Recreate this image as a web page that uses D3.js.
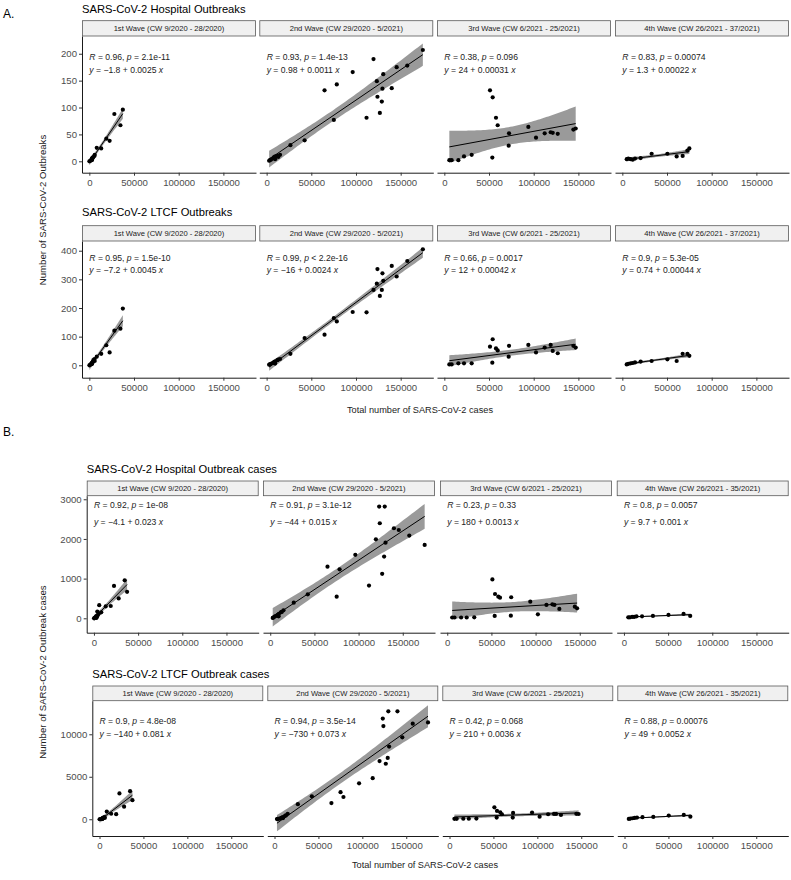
<!DOCTYPE html>
<html><head><meta charset="utf-8">
<script src="https://cdn.jsdelivr.net/npm/d3@7"></script>
<style>body{margin:0;background:#fff}</style>
</head><body>
<svg id="c" width="791" height="880"></svg>
<script>
// ---------------- DATA ----------------
const waveLabelsA = ["1st Wave (CW 9/2020 - 28/2020)", "2nd Wave (CW 29/2020 - 5/2021)", "3rd Wave (CW 6/2021 - 25/2021)", "4th Wave (CW 26/2021 - 37/2021)"];
const waveLabelsB = ["1st Wave (CW 9/2020 - 28/2020)", "2nd Wave (CW 29/2020 - 5/2021)", "3rd Wave (CW 6/2021 - 25/2021)", "4th Wave (CW 26/2021 - 35/2021)"];

// total weekly SARS-CoV-2 cases (x)
const casesW1 = [100, 1000, 6000, 22700, 34800, 37500, 28000, 19000, 13300, 8300, 5700, 4500, 3500, 2800, 2300, 2500, 3800, 3200, 2600, 2700];
const casesW2 = [2800, 3600, 4800, 6500, 8500, 9500, 8600, 8000, 9700, 12000, 13000, 15000, 26600, 42500, 64800, 96300, 119600, 123300, 124000, 126700, 128900, 145500, 174800, 157400, 130500, 140000, 111800, 78500, 75200, 129600];
const casesW3 = [5600, 8200, 15700, 22000, 30600, 51100, 54100, 53700, 57800, 59700, 72400, 72000, 94000, 102600, 112300, 119000, 121300, 126900, 144400, 147000];
const casesW4A = [4900, 6700, 9300, 11600, 14200, 20500, 32800, 50400, 60800, 67500, 72800, 75000];
const casesW4B = [4900, 6700, 9300, 11600, 14200, 20500, 32800, 50400, 67500, 75000];

// A: hospital outbreaks
const hospOutbreaksW1 = [0, 1, 12, 38, 67, 96, 88, 42, 24, 25, 10, 8, 5, 4, 3, 2, 7, 6, 3, 2];
const hospOutbreaksW2 = [1, 2, 3, 5, 8, 4, 6, 7, 9, 10, 8, 12, 30, 39, 132, 166, 190, 149, 120, 90, 111, 175, 207, 178, 162, 136, 81, 143, 77, 135];
const hospOutbreaksW3 = [2, 2, 2, 9, 12, 132, 119, 7, 81, 67, 52, 29, 64, 44, 52, 54, 53, 51, 59, 61];
const hospOutbreaksW4 = [4, 5, 4, 3, 5, 6, 14, 14, 9, 10, 20, 24];
// A: LTCF outbreaks
const ltcfOutbreaksW1 = [0, 2, 15, 45, 128, 198, 121, 70, 40, 30, 22, 18, 10, 8, 5, 6, 12, 8, 5, 4];
const ltcfOutbreaksW2 = [2, 3, 5, 8, 10, 6, 12, 9, 14, 18, 20, 22, 40, 95, 107, 186, 263, 285, 336, 242, 263, 310, 405, 364, 295, 347, 185, 153, 165, 321];
const ltcfOutbreaksW3 = [3, 3, 7, 7, 7, 65, 91, 9, 59, 52, 68, 30, 71, 45, 62, 71, 50, 42, 68, 62];
const ltcfOutbreaksW4 = [3, 5, 7, 8, 10, 13, 15, 21, 15, 40, 40, 33];
// B: hospital outbreak cases
const hospCasesW1 = [0, 20, 330, 817, 958, 667, 500, 310, 300, 150, 120, 80, 60, 40, 30, 50, 170, 30, 20, 10];
const hospCasesW2 = [10, 20, 40, 60, 80, 50, 90, 70, 110, 150, 160, 200, 395, 605, 1300, 1600, 1990, 2815, 2395, 1120, 1555, 2225, 1850, 2085, 1905, 2270, 825, 1235, 546, 2815];
const hospCasesW3 = [20, 20, 20, 20, 25, 980, 613, 60, 546, 520, 530, 67, 420, 100, 336, 353, 336, 235, 294, 252];
const hospCasesW4 = [25, 25, 35, 35, 50, 50, 60, 85, 110, 60];
// B: LTCF outbreak cases
const ltcfCasesW1 = [0, 30, 150, 3040, 3300, 2250, 1480, 600, 650, 900, 250, 200, 120, 80, 50, 60, 100, 40, 30, 20];
const ltcfCasesW2 = [20, 40, 60, 100, 150, 120, 200, 180, 250, 400, 450, 650, 1770, 2700, 1900, 4230, 6850, 11850, 10970, 6530, 7220, 9640, 11400, 11250, 8550, 12700, 4840, 2620, 3190, 12700];
const ltcfCasesW3 = [50, 50, 60, 60, 80, 1410, 980, 200, 820, 590, 745, 200, 785, 310, 590, 630, 630, 510, 640, 620];
const ltcfCasesW4 = [40, 80, 120, 160, 200, 240, 275, 430, 510, 310];

// statistics labels
const hospOutbreaksR = ["0.96", "0.93", "0.38", "0.83"];
const hospOutbreaksP = ["= 2.1e-11", "= 1.4e-13", "= 0.096", "= 0.00074"];
const hospOutbreaksEq = ["−1.8 + 0.0025", "0.98 + 0.0011", "24 + 0.00031", "1.3 + 0.00022"];
const ltcfOutbreaksR = ["0.95", "0.99", "0.66", "0.9"];
const ltcfOutbreaksP = ["= 1.5e-10", "< 2.2e-16", "= 0.0017", "= 5.3e-05"];
const ltcfOutbreaksEq = ["−7.2 + 0.0045", "−16 + 0.0024", "12 + 0.00042", "0.74 + 0.00044"];
const hospCasesR = ["0.92", "0.91", "0.23", "0.8"];
const hospCasesP = ["= 1e-08", "= 3.1e-12", "= 0.33", "= 0.0057"];
const hospCasesEq = ["−4.1 + 0.023", "−44 + 0.015", "180 + 0.0013", "9.7 + 0.001"];
const ltcfCasesR = ["0.9", "0.94", "0.42", "0.88"];
const ltcfCasesP = ["= 4.8e-08", "= 3.5e-14", "= 0.068", "= 0.00076"];
const ltcfCasesEq = ["−140 + 0.081", "−730 + 0.073", "210 + 0.0036", "49 + 0.0052"];

// tick labels
const xTicks = [0, 50000, 100000, 150000];
const yTicksA1 = [0, 50, 100, 150, 200];
const yTicksA2 = [0, 100, 200, 300, 400];
const yTicksB1 = [0, 1000, 2000, 3000];
const yTicksB2 = [0, 5000, 10000];

// ---------------- DRAWING ----------------
const FONT = "'Liberation Sans', Arial, Helvetica, sans-serif";
const svg = d3.select("#c");
const xDomain = [-8200, 186500];
const tQuant = {8: 2.306, 10: 2.228, 18: 2.101, 28: 2.048};

const rows = [
  {title: "SARS-CoV-2 Hospital Outbreaks", titleY: 10, stripTop: 20.7, plotTop: 36, plotBottom: 172.7,
   panelX: [82, 259.3, 437, 615], panelW: 174, yDomain: [-21.2, 233], yTicks: yTicksA1, waves: waveLabelsA,
   cases: [casesW1, casesW2, casesW3, casesW4A], values: [hospOutbreaksW1, hospOutbreaksW2, hospOutbreaksW3, hospOutbreaksW4],
   R: hospOutbreaksR, P: hospOutbreaksP, Eq: hospOutbreaksEq, annY: [57.7, 70.7]},
  {title: "SARS-CoV-2 LTCF Outbreaks", titleY: 213, stripTop: 225.7, plotTop: 241, plotBottom: 377.7,
   panelX: [82, 259.3, 437, 615], panelW: 174, yDomain: [-43.3, 433.9], yTicks: yTicksA2, waves: waveLabelsA,
   cases: [casesW1, casesW2, casesW3, casesW4A], values: [ltcfOutbreaksW1, ltcfOutbreaksW2, ltcfOutbreaksW3, ltcfOutbreaksW4],
   R: ltcfOutbreaksR, P: ltcfOutbreaksP, Eq: ltcfOutbreaksEq, annY: [259.3, 270.7]},
  {title: "SARS-CoV-2 Hospital Outbreak cases", titleY: 470, stripTop: 481, plotTop: 495.7, plotBottom: 632.7,
   panelX: [86.7, 263, 440, 616.7], panelW: 172, yDomain: [-363, 3090], yTicks: yTicksB1, waves: waveLabelsB,
   cases: [casesW1, casesW2, casesW3, casesW4B], values: [hospCasesW1, hospCasesW2, hospCasesW3, hospCasesW4],
   R: hospCasesR, P: hospCasesP, Eq: hospCasesEq, annY: [505.5, 523]},
  {title: "SARS-CoV-2 LTCF Outbreak cases", titleY: 675, stripTop: 686, plotTop: 700.7, plotBottom: 836,
   panelX: [92.3, 267.3, 442.3, 617.3], panelW: 171, yDomain: [-1970, 13953], yTicks: yTicksB2, waves: waveLabelsB,
   cases: [casesW1, casesW2, casesW3, casesW4B], values: [ltcfCasesW1, ltcfCasesW2, ltcfCasesW3, ltcfCasesW4],
   R: ltcfCasesR, P: ltcfCasesP, Eq: ltcfCasesEq, annY: [721.7, 735]}
];

function fit(xs, ys) {
  const n = xs.length;
  const mx = d3.mean(xs), my = d3.mean(ys);
  let sxx = 0, sxy = 0;
  for (let i = 0; i < n; i++) { sxx += (xs[i] - mx) ** 2; sxy += (xs[i] - mx) * (ys[i] - my); }
  const b = sxy / sxx, a = my - b * mx;
  let sse = 0;
  for (let i = 0; i < n; i++) sse += (ys[i] - a - b * xs[i]) ** 2;
  const s = Math.sqrt(sse / (n - 2));
  const t = tQuant[n - 2] || 2.0;
  return {a, b, band: x => t * s * Math.sqrt(1 / n + (x - mx) ** 2 / sxx)};
}

// section labels
svg.append("text").attr("x", 3).attr("y", 15).attr("dominant-baseline", "middle")
  .attr("font-family", FONT).attr("font-size", 12).text("A.");
svg.append("text").attr("x", 3).attr("y", 433).attr("dominant-baseline", "middle")
  .attr("font-family", FONT).attr("font-size", 12).text("B.");

rows.forEach((row, ri) => {
  svg.append("text").attr("x", row.panelX[0]).attr("y", row.titleY).attr("dominant-baseline", "middle")
    .attr("font-family", FONT).attr("font-size", 11.2).attr("fill", "#000").text(row.title);
  const y = d3.scaleLinear().domain(row.yDomain).range([row.plotBottom, row.plotTop]);

  row.panelX.forEach((px, i) => {
    const x = d3.scaleLinear().domain(xDomain).range([px, px + row.panelW]);
    const g = svg.append("g");
    const clipId = `clip-${ri}-${i}`;
    svg.append("clipPath").attr("id", clipId).append("rect")
      .attr("x", px).attr("y", row.plotTop).attr("width", row.panelW).attr("height", row.plotBottom - row.plotTop);

    // strip
    g.append("rect").attr("x", px + 0.5).attr("y", row.stripTop).attr("width", row.panelW - 1)
      .attr("height", row.plotTop - row.stripTop).attr("fill", "#f0f0f0").attr("stroke", "#595959").attr("stroke-width", 0.8);
    g.append("text").attr("x", px + row.panelW / 2).attr("y", (row.stripTop + row.plotTop) / 2 + 0.3)
      .attr("text-anchor", "middle").attr("dominant-baseline", "middle")
      .attr("font-family", FONT).attr("font-size", 7.6).attr("fill", "#1a1a1a").text(row.waves[i]);

    const xs = row.cases[i], ys = row.values[i];
    const f = fit(xs, ys);
    const [xmin, xmax] = d3.extent(xs);
    const grid = d3.range(0, 61).map(k => xmin + (xmax - xmin) * k / 60);
    const pg = g.append("g").attr("clip-path", `url(#${clipId})`);
    pg.append("path").datum(grid)
      .attr("d", d3.area().x(d => x(d)).y0(d => y(f.a + f.b * d - f.band(d))).y1(d => y(f.a + f.b * d + f.band(d))))
      .attr("fill", "#959595").attr("opacity", 0.95);
    pg.append("line").attr("x1", x(xmin)).attr("x2", x(xmax))
      .attr("y1", y(f.a + f.b * xmin)).attr("y2", y(f.a + f.b * xmax))
      .attr("stroke", "#000").attr("stroke-width", 1);
    pg.selectAll("circle").data(xs.map((v, k) => [v, ys[k]])).enter().append("circle")
      .attr("cx", d => x(d[0])).attr("cy", d => y(d[1])).attr("r", 2.1).attr("fill", "#000");

    // x axis
    const xa = g.append("g").attr("transform", `translate(0,${row.plotBottom})`)
      .call(d3.axisBottom(x).tickValues(xTicks).tickFormat(d3.format("d")).tickSize(3).tickSizeOuter(0).tickPadding(3));
    xa.select(".domain").attr("stroke", "#000").attr("stroke-width", 0.9);
    xa.selectAll(".tick line").attr("stroke", "#333");
    xa.selectAll("text").attr("font-family", FONT).attr("font-size", 9.6).attr("fill", "#4d4d4d");

    if (i === 0) {
      const ya = g.append("g").attr("transform", `translate(${px},0)`)
        .call(d3.axisLeft(y).tickValues(row.yTicks).tickFormat(d3.format("d")).tickSize(3).tickSizeOuter(0).tickPadding(2));
      ya.select(".domain").attr("stroke", "#000").attr("stroke-width", 0.9);
      ya.selectAll(".tick line").attr("stroke", "#333");
      ya.selectAll("text").attr("font-family", FONT).attr("font-size", 9.6).attr("fill", "#4d4d4d");
    }

    // annotations
    const ax = x(0);
    const t1 = g.append("text").attr("x", ax).attr("y", row.annY[0]).attr("dominant-baseline", "middle")
      .attr("font-family", FONT).attr("font-size", 8.6).attr("fill", "#222");
    t1.append("tspan").attr("font-style", "italic").text("R");
    t1.append("tspan").text(` = ${row.R[i]}, `);
    t1.append("tspan").attr("font-style", "italic").text("p");
    t1.append("tspan").text(` ${row.P[i]}`);
    const t2 = g.append("text").attr("x", ax).attr("y", row.annY[1]).attr("dominant-baseline", "middle")
      .attr("font-family", FONT).attr("font-size", 8.6).attr("fill", "#222");
    t2.append("tspan").attr("font-style", "italic").text("y");
    t2.append("tspan").text(` = ${row.Eq[i]} `);
    t2.append("tspan").attr("font-style", "italic").text("x");
  });
});

// axis titles
svg.append("text").attr("x", 420).attr("y", 411).attr("text-anchor", "middle").attr("dominant-baseline", "middle")
  .attr("font-family", FONT).attr("font-size", 9.2).attr("fill", "#222").text("Total number of SARS-CoV-2 cases");
svg.append("text").attr("x", 425).attr("y", 866).attr("text-anchor", "middle").attr("dominant-baseline", "middle")
  .attr("font-family", FONT).attr("font-size", 9.2).attr("fill", "#222").text("Total number of SARS-CoV-2 cases");
svg.append("text").attr("transform", "translate(43,210) rotate(-90)").attr("text-anchor", "middle").attr("dominant-baseline", "middle")
  .attr("font-family", FONT).attr("font-size", 9.6).attr("fill", "#222").text("Number of SARS-CoV-2 Outbreaks");
svg.append("text").attr("transform", "translate(43,672) rotate(-90)").attr("text-anchor", "middle").attr("dominant-baseline", "middle")
  .attr("font-family", FONT).attr("font-size", 9.6).attr("fill", "#222").text("Number of SARS-CoV-2 Outbreak cases");
</script>
</body></html>
